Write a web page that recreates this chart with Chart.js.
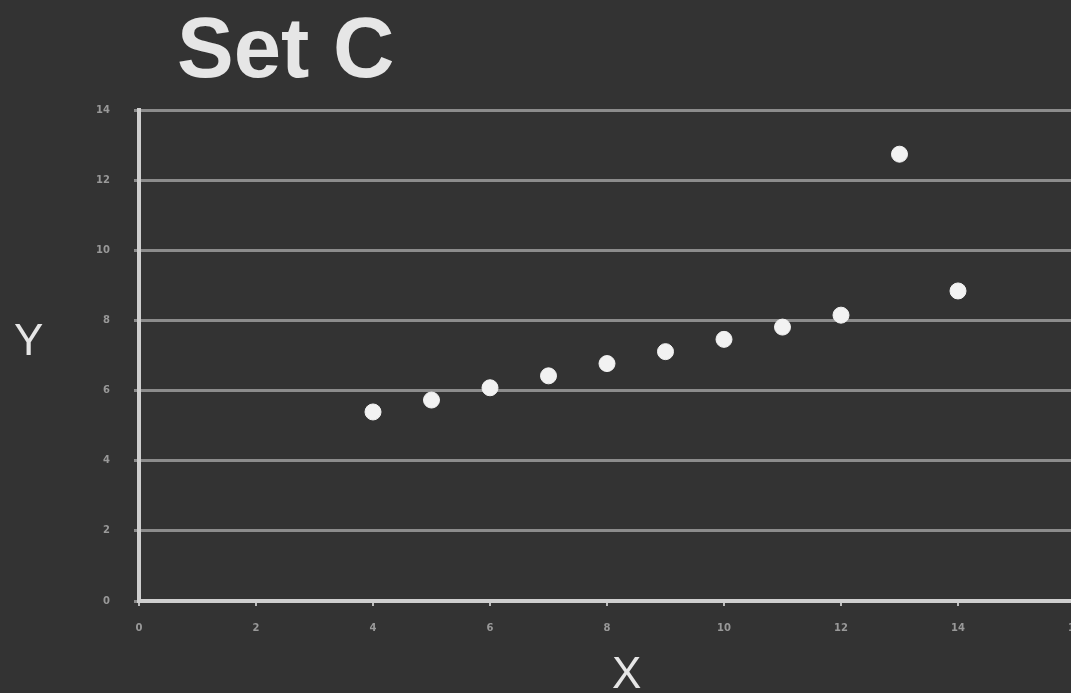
<!DOCTYPE html>
<html>
<head>
<meta charset="utf-8">
<script src="https://cdn.jsdelivr.net/npm/chart.js@4/dist/chart.umd.min.js"></script>
<style>
  html, body { margin: 0; padding: 0; background: #333333; overflow: hidden; width: 1071px; height: 693px; }
  #wrap { position: absolute; left: 0; top: 0; width: 1100px; height: 693px; }
  .lbl { position: absolute; color: #e6e6e6; font-family: "Liberation Sans", Arial, sans-serif; font-weight: bold; line-height: 1; }
  #title { left: 177px; top: 5px; font-size: 85px; }
  #ylab { left: 14px; top: 318px; font-size: 44px; font-weight: normal; }
  #xlab { left: 612px; top: 651px; font-size: 44px; font-weight: normal; }
</style>
</head>
<body>
<div id="wrap"><canvas id="chart" width="1100" height="693"></canvas></div>
<div class="lbl" id="title">Set C</div>
<div class="lbl" id="ylab">Y</div>
<div class="lbl" id="xlab">X</div>
<script>
// Anscombe set C
const xValues = [10, 8, 13, 9, 11, 14, 6, 4, 12, 7, 5];
const yValues = [7.46, 6.77, 12.74, 7.11, 7.81, 8.84, 6.08, 5.39, 8.15, 6.42, 5.73];
const xTicks = [0, 2, 4, 6, 8, 10, 12, 14, 16];
const yTicks = [0, 2, 4, 6, 8, 10, 12, 14];

const points = xValues.map((x, i) => ({ x: x, y: yValues[i] }));

new Chart(document.getElementById('chart').getContext('2d'), {
    type: 'scatter',
    data: {
        datasets: [{
            data: points,
            backgroundColor: '#f2f2f2',
            borderColor: '#f2f2f2',
            pointRadius: 8,
            pointHoverRadius: 8
        }]
    },
    options: {
        responsive: false,
        animation: false,
        layout: { padding: { top: 110, right: 25, left: 0, bottom: 0 } },
        plugins: { legend: { display: false }, tooltip: { enabled: false } },
        scales: {
            x: {
                type: 'linear',
                min: 0, max: 16,
                afterBuildTicks: s => { s.ticks = xTicks.map(v => ({ value: v })); },
                afterFit: s => { s.height = 92; },
                border: { color: '#cfcfcf', width: 4 },
                grid: { drawOnChartArea: false, color: '#bdbdbd', tickLength: 5, lineWidth: 2 },
                ticks: { color: '#999999', font: { size: 10, family: 'DejaVu Sans', weight: 'bold' }, padding: 16, maxRotation: 0 }
            },
            y: {
                type: 'linear',
                min: 0, max: 14,
                afterBuildTicks: s => { s.ticks = yTicks.map(v => ({ value: v })); },
                afterFit: s => { s.width = 139; },
                border: { color: '#cfcfcf', width: 4 },
                grid: { color: '#8c8c8c', lineWidth: 3, tickLength: 5 },
                ticks: { color: '#999999', font: { size: 10, family: 'DejaVu Sans', weight: 'bold' }, padding: 24 }
            }
        }
    }
});
</script>
</body>
</html>
